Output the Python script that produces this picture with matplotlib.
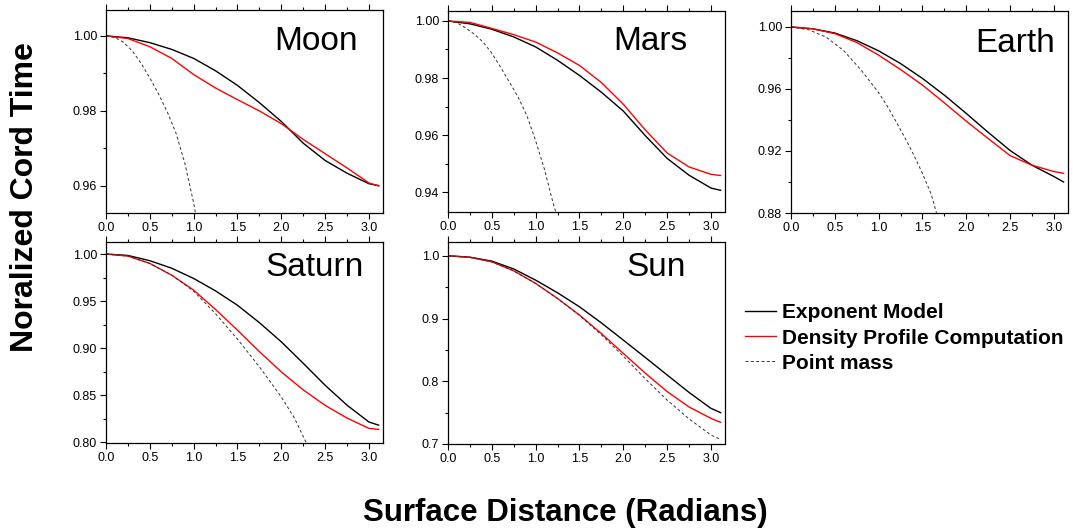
import numpy as np
import matplotlib
matplotlib.use('Agg')
from matplotlib import pyplot as plt
from matplotlib.ticker import MultipleLocator, FormatStrFormatter

plt.rcParams['font.family'] = ['Liberation Sans', 'DejaVu Sans']

# x grid for the two model curves (radians)
xs = [0, 0.25, 0.5, 0.75, 1.0, 1.25, 1.5, 1.75, 2.0, 2.25, 2.5, 2.75, 3.0, 3.11]

# Moon
moon_exp = [1.0, 0.9995, 0.9982, 0.9964, 0.9940, 0.9907, 0.9868, 0.9822, 0.9772, 0.9714, 0.9668, 0.9634, 0.9606, 0.9601]
moon_den = [1.0, 0.9993, 0.9971, 0.9940, 0.9897, 0.9861, 0.9830, 0.9800, 0.9766, 0.9724, 0.9686, 0.9648, 0.9608, 0.9600]
moon_px = [0, 0.1, 0.2, 0.3, 0.4, 0.5, 0.6, 0.7, 0.8, 0.9, 1.0, 1.02]
moon_py = [1.0, 0.9996, 0.9983, 0.9960, 0.9927, 0.9888, 0.9845, 0.9797, 0.9740, 0.9660, 0.9555, 0.9528]

# Mars
mars_exp = [1.0, 0.9990, 0.9971, 0.9944, 0.9909, 0.9862, 0.9809, 0.9750, 0.9684, 0.9598, 0.9518, 0.9459, 0.9414, 0.9406]
mars_den = [1.0, 0.9995, 0.9974, 0.9952, 0.9926, 0.9888, 0.9844, 0.9784, 0.9708, 0.9618, 0.9537, 0.9488, 0.9462, 0.9458]
mars_px = [0, 0.1, 0.2, 0.3, 0.4, 0.5, 0.6, 0.7, 0.8, 0.9, 1.0, 1.1, 1.2, 1.23]
mars_py = [1.0, 0.9994, 0.9976, 0.9954, 0.9926, 0.9887, 0.9838, 0.9786, 0.9733, 0.9668, 0.9580, 0.9480, 0.9360, 0.933]

# Earth
earth_exp = [1.0, 0.9988, 0.9961, 0.9912, 0.9846, 0.9764, 0.9668, 0.9560, 0.9442, 0.9320, 0.9203, 0.9108, 0.9035, 0.9000]
earth_den = [1.0, 0.9988, 0.9957, 0.9900, 0.9818, 0.9725, 0.9625, 0.9510, 0.9392, 0.9280, 0.9170, 0.9108, 0.9067, 0.9056]
earth_px = [0, 0.2, 0.4, 0.6, 0.8, 1.0, 1.1, 1.2, 1.3, 1.4, 1.5, 1.6, 1.66]
earth_py = [1.0, 0.9982, 0.9935, 0.9848, 0.9722, 0.9576, 0.9488, 0.9388, 0.9285, 0.9175, 0.9055, 0.8920, 0.8800]

# Saturn
saturn_exp = [1.0, 0.9985, 0.9929, 0.9849, 0.9740, 0.9608, 0.9455, 0.9270, 0.9066, 0.8838, 0.8604, 0.8392, 0.8213, 0.8180]
saturn_den = [1.0, 0.9978, 0.9900, 0.9775, 0.9616, 0.9410, 0.9190, 0.8962, 0.8746, 0.8555, 0.8390, 0.8255, 0.8145, 0.8135]
saturn_px = [0, 0.25, 0.5, 0.75, 1.0, 1.25, 1.5, 1.75, 2.0, 2.15, 2.28]
saturn_py = [1.0, 0.9978, 0.9900, 0.9775, 0.9605, 0.9365, 0.9095, 0.8800, 0.8480, 0.8255, 0.8000]

# Sun
sun_exp = [1.0, 0.9978, 0.9915, 0.9790, 0.9612, 0.9410, 0.9187, 0.8930, 0.8656, 0.8380, 0.8100, 0.7822, 0.7568, 0.7500]
sun_den = [1.0, 0.9975, 0.9904, 0.9760, 0.9560, 0.9320, 0.9055, 0.8760, 0.8444, 0.8130, 0.7835, 0.7590, 0.7408, 0.7345]
sun_px = xs
sun_py = [1.0, 0.9975, 0.9904, 0.9760, 0.9558, 0.9318, 0.9050, 0.8740, 0.8400, 0.8040, 0.7700, 0.7400, 0.7143, 0.7074]

W, H = 1073., 532.
fig = plt.figure(figsize=(W/100, H/100), dpi=100)

def box(x0, y0, x1, y1):
    # pixel box -> figure fraction
    return [x0/W, 1-y1/H, (x1-x0)/W, (y1-y0)/H]

panels = [
    ('Moon', moon_exp, moon_den, moon_px, moon_py, box(106, 10, 383, 213), (0.9528, 1.0069), 0.02, '%.2f', (358, 42)),
    ('Mars', mars_exp, mars_den, mars_px, mars_py, box(448, 11, 725, 212), (0.933, 1.0035), 0.02, '%.2f', (687, 42)),
    ('Earth', earth_exp, earth_den, earth_px, earth_py, box(791, 11, 1068, 213), (0.88, 1.0103), 0.04, '%.2f', (1055, 43)),
    ('Saturn', saturn_exp, saturn_den, saturn_px, saturn_py, box(106, 242, 383, 443), (0.799, 1.0128), 0.05, '%.2f', (364, 268)),
    ('Sun', sun_exp, sun_den, sun_px, sun_py, box(448, 242, 725, 444), (0.7, 1.022), 0.1, '%.1f', (686, 268)),
]

for name, ye, yd, px, py, rect, ylim, step, fmt, tpos in panels:
    ax = fig.add_axes(rect)
    l1, = ax.plot(xs, ye, color='black', lw=1.0, label='Exponent Model')
    l2, = ax.plot(xs, yd, color='red', lw=1.0, label='Density Profile Computation')
    l3, = ax.plot(px, py, color='#333333', lw=0.7, ls=(0, (3, 2.5)), label='Point mass')
    ax.set_xlim(0, 3.16)
    ax.set_ylim(*ylim)
    ax.xaxis.set_major_locator(MultipleLocator(0.5))
    ax.xaxis.set_minor_locator(MultipleLocator(0.25))
    ax.yaxis.set_major_locator(MultipleLocator(step))
    ax.yaxis.set_minor_locator(MultipleLocator(step/2))
    ax.xaxis.set_major_formatter(FormatStrFormatter('%.1f'))
    ax.yaxis.set_major_formatter(FormatStrFormatter(fmt))
    ax.tick_params(which='both', direction='out', top=True, right=False, labelsize=9, width=0.8, pad=2)
    ax.tick_params(which='major', length=4.5)
    ax.tick_params(which='minor', length=2.5)
    for s in ax.spines.values():
        s.set_linewidth(0.9)
    fig.text(tpos[0]/W, 1-tpos[1]/H, name, ha='right', va='center', fontsize=24)

fig.legend(handles=[l1, l2, l3], loc='center left', bbox_to_anchor=(737/W, 1-338/H),
           frameon=False, prop={'weight': 'bold', 'size': 15},
           handlelength=1.45, handletextpad=0.3, labelspacing=0.3, borderaxespad=0)

fig.text(25/W, 1-197/H, 'Noralized Cord Time', rotation=90, ha='center', va='center',
         fontsize=23, fontweight='bold')
fig.text(565/W, 1-513/H, 'Surface Distance (Radians)', ha='center', va='center',
         fontsize=22.5, fontweight='bold')

plt.savefig('out.png', dpi=100)
